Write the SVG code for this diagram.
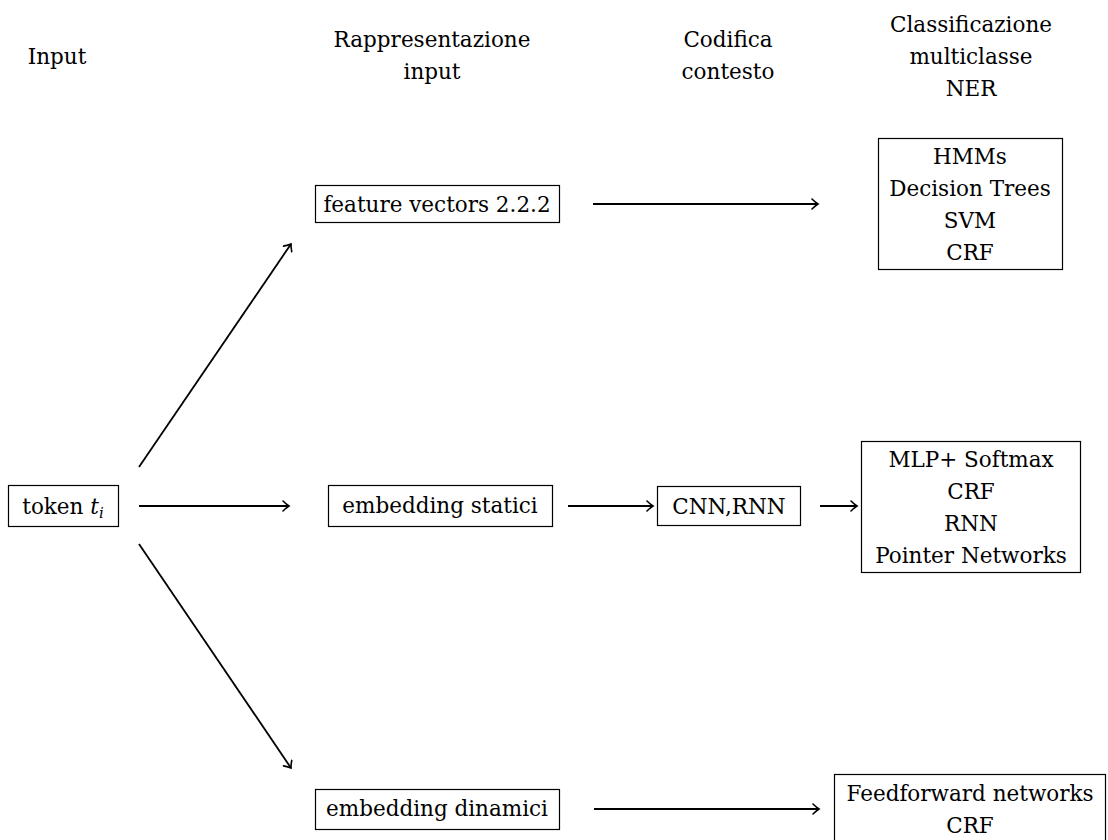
<svg xmlns="http://www.w3.org/2000/svg" width="1108" height="840" viewBox="0 0 1108 840">
<defs>
<marker id="ah" viewBox="-8 -6 10 12" markerWidth="10" markerHeight="12" refX="0" refY="0" orient="auto" markerUnits="userSpaceOnUse">
<path d="M -6 -5 Q -2.5 -1.5 0 0 Q -2.5 1.5 -6 5" fill="none" stroke="#000" stroke-width="1.6" stroke-linecap="round"/>
</marker>
</defs>
<style>
text{font-family:"DejaVu Serif","Liberation Serif",serif;font-size:21.5px;fill:#000;text-anchor:middle}
.box{fill:#fff;stroke:#000;stroke-width:1.2}
.edge{stroke:#000;stroke-width:1.8;fill:none;marker-end:url(#ah)}
</style>
<rect width="1108" height="840" fill="#fff"/>
<g id="headers">
<text x="57" y="64">Input</text>
<text x="432" y="47">Rappresentazione</text>
<text x="432" y="79">input</text>
<text x="728" y="47">Codifica</text>
<text x="728" y="79">contesto</text>
<text x="971" y="32">Classificazione</text>
<text x="971" y="64">multiclasse</text>
<text x="971" y="96">NER</text>
</g>
<g id="connectors">
<line class="edge" x1="139" y1="506" x2="289" y2="506"/>
<line class="edge" x1="139" y1="467" x2="291" y2="244"/>
<line class="edge" x1="139" y1="544" x2="291" y2="768"/>
<line class="edge" x1="593" y1="204" x2="818" y2="204"/>
<line class="edge" x1="568" y1="506" x2="653" y2="506"/>
<line class="edge" x1="820" y1="506" x2="857" y2="506"/>
<line class="edge" x1="594" y1="809" x2="819" y2="809"/>
</g>
<g id="token">
<rect class="box" x="8.5" y="485.5" width="110" height="41"/>
<text x="63" y="514">token <tspan font-style="italic">t</tspan><tspan font-style="italic" font-size="15" dy="4">i</tspan></text>
</g>
<g id="feature">
<rect class="box" x="315.5" y="185.5" width="244" height="37"/>
<text x="437" y="212">feature vectors 2.2.2</text>
</g>
<g id="statici">
<rect class="box" x="328.5" y="485.5" width="224" height="41"/>
<text x="440" y="513">embedding statici</text>
</g>
<g id="dinamici">
<rect class="box" x="315.5" y="789.5" width="244" height="40"/>
<text x="437" y="816">embedding dinamici</text>
</g>
<g id="cnn">
<rect class="box" x="657.5" y="486.5" width="143" height="39"/>
<text x="729" y="514">CNN,RNN</text>
</g>
<g id="classic">
<rect class="box" x="878.5" y="138.5" width="184" height="131"/>
<text x="970" y="164">HMMs</text>
<text x="970" y="196">Decision Trees</text>
<text x="970" y="228">SVM</text>
<text x="970" y="260">CRF</text>
</g>
<g id="neural">
<rect class="box" x="861.5" y="441.5" width="219" height="131"/>
<text x="971" y="467">MLP+ Softmax</text>
<text x="971" y="499">CRF</text>
<text x="971" y="531">RNN</text>
<text x="971" y="563">Pointer Networks</text>
</g>
<g id="feedforward">
<rect class="box" x="834.5" y="774.5" width="271" height="80"/>
<text x="970" y="801">Feedforward networks</text>
<text x="970" y="833">CRF</text>
</g>
</svg>
